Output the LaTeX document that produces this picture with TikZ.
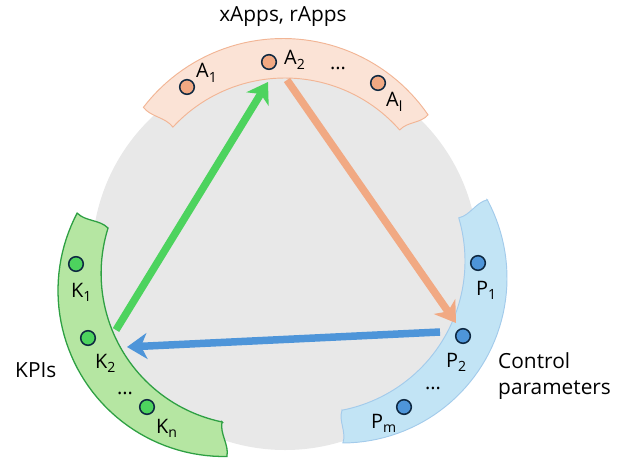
\documentclass[tikz,border=0pt]{standalone}
\usepackage{fontspec}
\setmainfont{Open Sans}
\usepackage{tikz}
\usetikzlibrary{arrows.meta}
\definecolor{appfill}{HTML}{FBE3D6}
\definecolor{appline}{HTML}{F2B595}
\definecolor{appdot}{HTML}{F1A983}
\definecolor{kpifill}{HTML}{B5E6A2}
\definecolor{kpiline}{HTML}{2EA043}
\definecolor{kpidot}{HTML}{4DD35E}
\definecolor{parfill}{HTML}{C2E4F5}
\definecolor{parline}{HTML}{A3CBEB}
\definecolor{pardot}{HTML}{4E95D9}
\definecolor{navy}{HTML}{0E2841}
\definecolor{loopgray}{HTML}{E8E8E8}
\newcommand{\lsub}[1]{\raisebox{-3.6pt}{\fontsize{12}{13}\selectfont #1}}

\begin{document}
\begin{tikzpicture}[x=0.03cm, y=-0.03cm,
  txt/.style={font=\fontsize{17.8}{21}\selectfont, inner sep=0pt},
  lbl/.style={font=\fontsize{17}{20}\selectfont, inner sep=0pt, anchor=base west},
  dot/.style={circle, draw=navy, line width=1.3pt, minimum size=12.5pt, inner sep=0pt},
  band/.style={line width=0.8pt},
  flow/.style={line width=6.4pt, -{Stealth[length=17pt, width=22pt, inset=5pt]}},
]
\useasboundingbox (0,0) rectangle (625,459);

% ---------- loop background ----------
\fill[loopgray] (285,257) circle[radius=5.79cm];

% ---------- bands (px coords, y down) ----------
% apps band, top
\filldraw[band, fill=appfill, draw=appline]
  plot[domain=-142.5:-34.5, samples=50] ({283+176*cos(\x)}, {214.5+176*sin(\x)})
  .. controls (420.6,123.5) and (407.4,121.5) .. (399.7,130.0)
  -- plot[domain=-41.2:-137.3, samples=50] ({285+152.5*cos(\x)}, {230.5+152.5*sin(\x)})
  .. controls (165.2,117) and (150.8,117) .. (143.4,107.4) -- cycle;
% kpi band, left
\filldraw[line width=1.1pt, fill=kpifill, draw=kpiline]
  plot[domain=207.8:89, samples=50] ({224+166*cos(\x)}, {290.5+166*sin(\x)})
  .. controls (229.3,444.7) and (219.7,434.3) .. (222.0,421.9)
  -- plot[domain=101.7:197.4, samples=50] ({252.8+151.7*cos(\x)}, {273.4+151.7*sin(\x)})
  .. controls (99.5,219.4) and (85.5,221.6) .. (77.2,213.1) -- cycle;
% parameter band, right
\filldraw[band, fill=parfill, draw=parline]
  plot[domain=-28.3:89.7, samples=50] ({342+165*cos(\x)}, {278+165*sin(\x)})
  .. controls (346.7,432) and (338.3,421) .. (342.0,410.2)
  -- plot[domain=79:-16.5, samples=50] ({313+152*cos(\x)}, {261+152*sin(\x)})
  .. controls (470.2,215.4) and (475.5,202.6) .. (487.3,199.8) -- cycle;

% ---------- loop arrows ----------
\coordinate (kpiout) at (116,330);
\coordinate (appin) at (268,82);
\coordinate (appout) at (287,80);
\coordinate (parin) at (456,323);
\coordinate (parout) at (440,332);
\coordinate (kpiin) at (127,347);
\draw[flow, draw=kpidot, fill=kpidot] (kpiout) -- (appin);
\draw[flow, draw=appdot, fill=appdot] (appout) -- (parin);
\draw[flow, draw=pardot, fill=pardot] (parout) -- (kpiin);

% ---------- dots ----------
\foreach \nm/\xx/\yy in {a1/187/87, a2/269/62, al/378/83}
  \node[dot, fill=appdot] (\nm) at (\xx,\yy) {};
\foreach \nm/\xx/\yy in {k1/76/264, k2/88/338, kn/147/407}
  \node[dot, fill=kpidot] (\nm) at (\xx,\yy) {};
\foreach \nm/\xx/\yy in {p1/478/263, p2/463/336, pm/404/407}
  \node[dot, fill=pardot] (\nm) at (\xx,\yy) {};

% ---------- dot labels ----------
\foreach \nm/\xx/\yy/\lb in {%
  la1/196/78/{A\lsub{1}}, la2/284/65/{A\lsub{2}}, lal/386/107/{A\lsub{l}},
  lk1/71/297/{K\lsub{1}}, lk2/95/368/{K\lsub{2}}, lkn/156/433/{K\lsub{n}},
  lp1/476/295/{P\lsub{1}}, lp2/446/367/{P\lsub{2}}, lpm/371/428/{P\lsub{m}}%
} {
  \node[lbl] (\nm) at (\xx,\yy) {\lb};
}
\node[lbl, anchor=base] (adots) at (338,70) {...};
\node[lbl, anchor=base] (kdots) at (125,394) {...};
\node[lbl, anchor=base] (pdots) at (433,389) {...};

% ---------- group names ----------
\node[txt, anchor=base] (apps) at (283,22) {xApps, rApps};
\node[txt, anchor=base west] (kpis) at (15,377) {KPIs};
\node[txt, anchor=base west] (ctrl) at (498,368) {Control};
\node[txt, anchor=base west] (params) at (498,394) {parameters};
\end{tikzpicture}
\end{document}
